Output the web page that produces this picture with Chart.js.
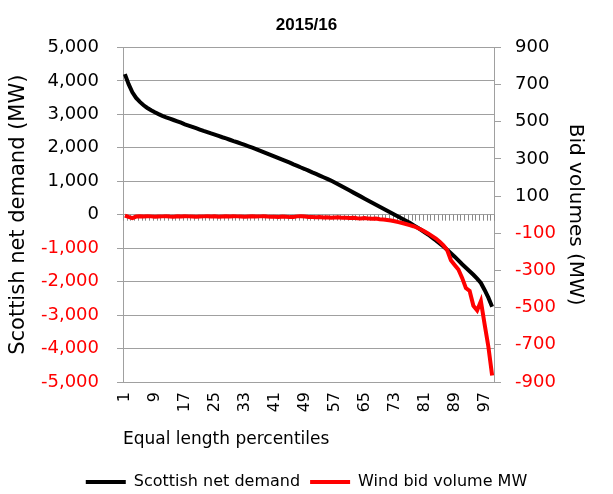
<!DOCTYPE html>
<html>
<head>
<meta charset="utf-8">
<script src="https://cdn.jsdelivr.net/npm/chart.js"></script>
<style>
  body { margin: 0; background: #fff; }
</style>
</head>
<body>
<canvas id="chart" width="613" height="494"></canvas>
<script>
// percentile buckets 1..99
const percentiles = Array.from({ length: 99 }, (_, i) => String(i + 1));

const netDemand = [
  4200, 3900, 3660, 3490, 3370, 3270, 3190, 3120, 3060, 3005,
  2955, 2910, 2870, 2830, 2790, 2750, 2700, 2665, 2625, 2585,
  2545, 2505, 2470, 2430, 2395, 2355, 2315, 2280, 2240, 2200,
  2165, 2125, 2085, 2045, 2005, 1960, 1915, 1870, 1825, 1780,
  1735, 1690, 1645, 1600, 1555, 1505, 1460, 1410, 1365, 1315,
  1265, 1220, 1170, 1120, 1070, 1020, 960, 900, 840, 780,
  720, 660, 600, 540, 480, 420, 360, 300, 240, 180,
  120, 60, 0, -60, -120, -180, -240, -310, -380, -450,
  -525, -600, -685, -770, -860, -950, -1050, -1150, -1255, -1365,
  -1480, -1585, -1690, -1795, -1910, -2040, -2250, -2480, -2750
];

const windBid = [
  -5, -12, -18, -10, -8,
  -10, -8, -9, -11, -10, -9, -8, -10, -11, -9, -10, -8, -9, -10, -11, -10, -9, -8,
  -10, -9, -11, -10, -9, -10, -8, -9, -10, -11, -10, -9, -10, -9, -8, -10, -11,
  -11, -12, -10, -11, -13, -12, -9, -8, -10, -12, -13, -14, -13, -15, -14, -16, -15, -14, -17, -16,
  -18, -17, -19, -20, -18, -21, -22, -20, -24, -26, -28, -31,
  -35, -40, -45, -50, -56, -62, -70, -80, -90, -102, -115, -128, -145, -165,
  -190, -245, -270, -295, -340, -395, -410, -490, -515, -465, -590, -710, -865
];

const leftTicks = [-5000, -4000, -3000, -2000, -1000, 0, 1000, 2000, 3000, 4000, 5000];
const rightTicks = [-900, -700, -500, -300, -100, 100, 300, 500, 700, 900];

const font = 'DejaVu Sans';
const signColor = c => (c.tick && c.tick.value < 0 ? '#ff0000' : '#000000');

// small category tick marks hanging off the zero line
const zeroTicks = {
  id: 'zeroTicks',
  beforeDatasetsDraw(chart) {
    const x = chart.scales.x, y = chart.scales.y;
    const y0 = y.getPixelForValue(0);
    const ctx = chart.ctx;
    ctx.save();
    ctx.strokeStyle = '#8a8a8a';
    ctx.lineWidth = 1;
    ctx.beginPath();
    for (let k = 0; k <= percentiles.length; k++) {
      const a = x.getPixelForValue(Math.max(k - 1, 0));
      const b = x.getPixelForValue(Math.min(k, percentiles.length - 1));
      let px = (a + b) / 2;
      if (k === 0) px = x.left;
      if (k === percentiles.length) px = x.right;
      px = Math.round(px) + 0.5;
      ctx.moveTo(px, y0);
      ctx.lineTo(px, y0 + 6);
    }
    ctx.stroke();
    ctx.restore();
  }
};

new Chart(document.getElementById('chart'), {
  type: 'line',
  data: {
    labels: percentiles,
    datasets: [
      {
        label: 'Scottish net demand',
        data: netDemand,
        borderColor: '#000000',
        backgroundColor: '#000000',
        borderWidth: 4,
        pointRadius: 0,
        tension: 0,
        yAxisID: 'y',
        order: 1
      },
      {
        label: 'Wind bid volume MW',
        data: windBid,
        borderColor: '#ff0000',
        backgroundColor: '#ff0000',
        borderWidth: 4,
        pointRadius: 0,
        tension: 0,
        yAxisID: 'y1',
        order: 0
      }
    ]
  },
  options: {
    responsive: false,
    animation: false,
    devicePixelRatio: 1,
    layout: { padding: 0 },
    plugins: {
      title: {
        display: true,
        text: '2015/16',
        color: '#000',
        font: { family: 'Liberation Sans', size: 17, weight: 'bold' },
        padding: { top: 15, bottom: 12 }
      },
      legend: {
        position: 'bottom',
        maxHeight: 30,
        labels: {
          usePointStyle: true,
          pointStyle: 'line',
          pointStyleWidth: 40,
          color: '#000',
          padding: 10,
          font: { family: font, size: 16 },
          sort: (a, b) => a.datasetIndex - b.datasetIndex
        }
      },
      tooltip: { enabled: false }
    },
    scales: {
      x: {
        type: 'category',
        offset: true,
        grid: { display: false, drawTicks: false },
        border: { display: true, color: '#a0a0a0', width: 1 },
        ticks: {
          autoSkip: false,
          minRotation: 90,
          maxRotation: 90,
          padding: 10,
          color: '#000',
          font: { family: font, size: 16 },
          callback: (v, i) => (i % 8 === 0 ? percentiles[i] : '')
        },
        title: {
          display: true,
          text: 'Equal length percentiles',
          align: 'start',
          color: '#000',
          font: { family: font, size: 17 },
          padding: { top: 4, bottom: 14 }
        },
        afterFit: s => { s.height = 82; }
      },
      y: {
        position: 'left',
        min: -5000,
        max: 5000,
        afterBuildTicks: s => { s.ticks = leftTicks.map(v => ({ value: v })); },
        grid: { color: '#a0a0a0', lineWidth: 1, tickLength: 6 },
        border: { color: '#a0a0a0', width: 1 },
        ticks: {
          padding: 18,
          color: signColor,
          font: { family: font, size: 18 },
          callback: v => Number(v).toLocaleString('en-US')
        },
        title: {
          display: true,
          text: 'Scottish net demand (MW)',
          color: '#000',
          font: { family: font, size: 21 },
          padding: { top: 6, bottom: 0 }
        },
        afterFit: s => { s.width = 123; }
      },
      y1: {
        position: 'right',
        min: -900,
        max: 900,
        afterBuildTicks: s => { s.ticks = rightTicks.map(v => ({ value: v })); },
        grid: { drawOnChartArea: false, color: '#a0a0a0', lineWidth: 1, tickLength: 7 },
        border: { color: '#a0a0a0', width: 1 },
        ticks: {
          padding: 14,
          color: signColor,
          font: { family: font, size: 18 }
        },
        title: {
          display: true,
          text: 'Bid volumes (MW)',
          color: '#000',
          font: { family: font, size: 20 },
          padding: { top: 26, bottom: 0 }
        },
        afterFit: s => { s.width = 119; }
      }
    }
  },
  plugins: [zeroTicks]
});
</script>
</body>
</html>
